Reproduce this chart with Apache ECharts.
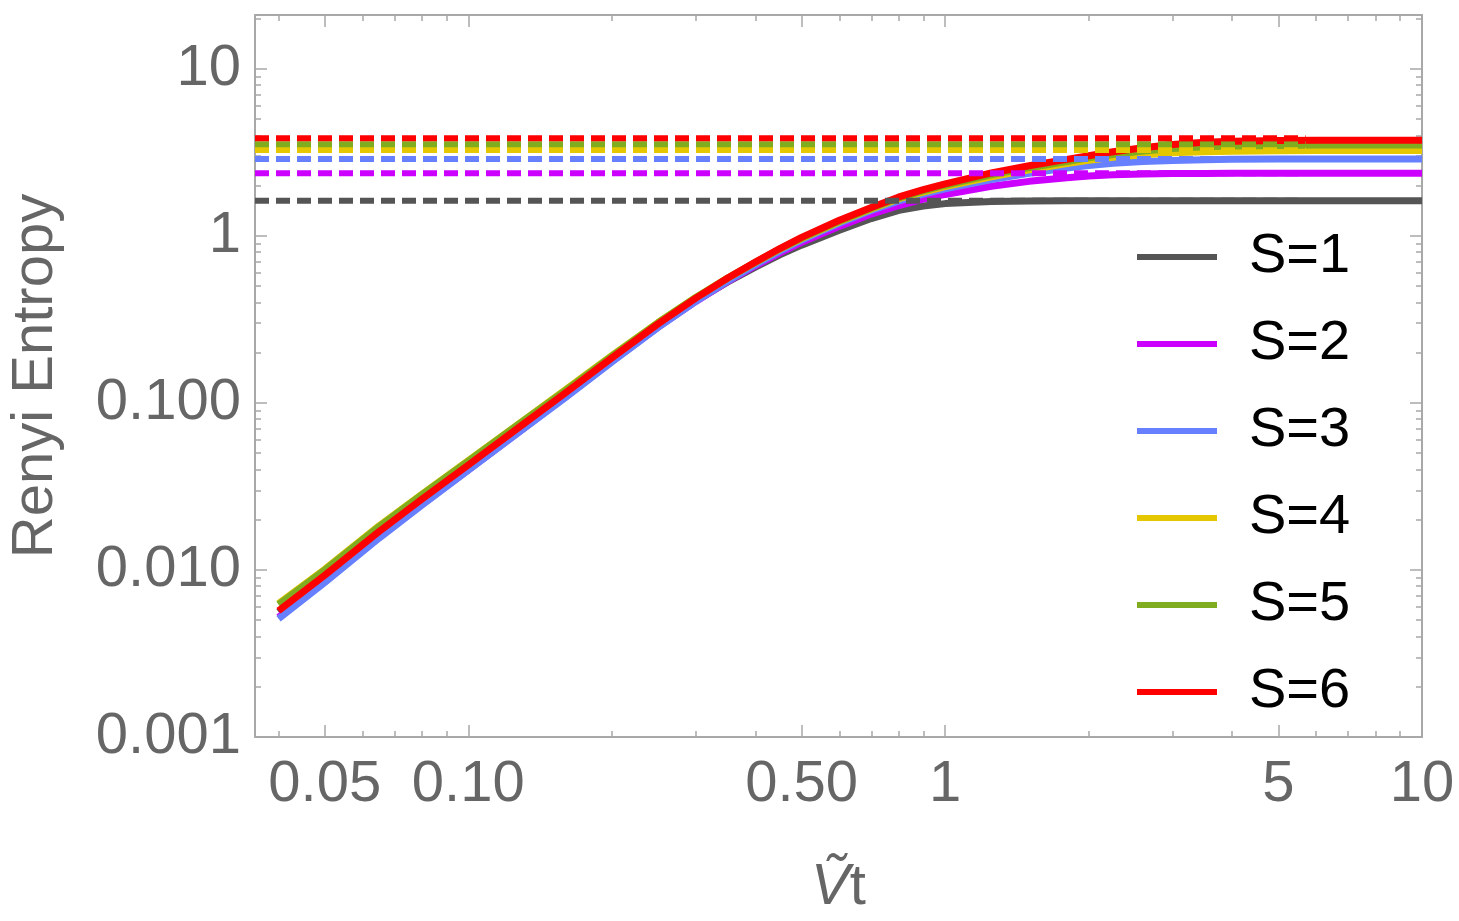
<!DOCTYPE html>
<html>
<head>
<meta charset="utf-8">
<style>
  html, body { margin: 0; padding: 0; background: #fff; }
  #main { width: 1459px; height: 921px; }
</style>
<script src="https://cdn.jsdelivr.net/npm/echarts@6.0.0/dist/echarts.min.js"></script>
</head>
<body>
<div id="main"></div>
<script>
// time axis (Ṽt) sample points shared by all curves
const times = [0.04, 0.05, 0.065, 0.08, 0.1, 0.13, 0.16, 0.2, 0.25, 0.3, 0.35, 0.4, 0.45, 0.5,
  0.6, 0.7, 0.8, 0.9, 1.0, 1.25, 1.5, 1.8, 2.0, 2.25, 2.6, 3.0, 3.5, 4, 5, 6, 7, 8.5, 10]

// Renyi entropy, one array per S
const entS1 = [0.0056, 0.0091, 0.0167, 0.0261, 0.0417, 0.0727, 0.113, 0.182, 0.289, 0.409, 0.530, 0.650, 0.77, 0.88,
  1.08, 1.27, 1.42, 1.51, 1.56, 1.605, 1.615, 1.62, 1.62, 1.62, 1.62, 1.62, 1.62, 1.62, 1.62, 1.62, 1.62, 1.62, 1.62]
const entS2 = [0.0052, 0.0085, 0.0157, 0.0247, 0.0397, 0.0697, 0.109, 0.177, 0.284, 0.405, 0.533, 0.662, 0.79, 0.915,
  1.14, 1.35, 1.52, 1.66, 1.77, 1.98, 2.12, 2.23, 2.28, 2.32, 2.345, 2.36, 2.365, 2.37, 2.37, 2.37, 2.37, 2.37, 2.37]
const entS3 = [0.0051, 0.0084, 0.0155, 0.0245, 0.0395, 0.0694, 0.108, 0.176, 0.283, 0.406, 0.537, 0.671, 0.810, 0.943,
  1.19, 1.42, 1.62, 1.78, 1.91, 2.17, 2.37, 2.55, 2.64, 2.72, 2.79, 2.83, 2.86, 2.875, 2.885, 2.89, 2.89, 2.89, 2.89]
const entS4 = [0.0063, 0.0101, 0.0184, 0.0285, 0.0451, 0.0778, 0.120, 0.192, 0.303, 0.428, 0.559, 0.693, 0.832, 0.964,
  1.215, 1.45, 1.67, 1.83, 1.97, 2.26, 2.49, 2.71, 2.83, 2.95, 3.06, 3.14, 3.19, 3.21, 3.235, 3.24, 3.24, 3.24, 3.24]
const entS5 = [0.0062, 0.0100, 0.0182, 0.0283, 0.0448, 0.0775, 0.119, 0.191, 0.302, 0.428, 0.559, 0.695, 0.835, 0.970,
  1.225, 1.465, 1.69, 1.86, 2.01, 2.32, 2.56, 2.79, 2.93, 3.07, 3.22, 3.33, 3.41, 3.45, 3.48, 3.495, 3.50, 3.50, 3.50]
const entS6 = [0.0057, 0.0093, 0.0170, 0.0266, 0.0425, 0.0741, 0.115, 0.186, 0.297, 0.424, 0.559, 0.697, 0.84, 0.979,
  1.24, 1.48, 1.71, 1.89, 2.05, 2.38, 2.63, 2.87, 3.02, 3.19, 3.37, 3.52, 3.63, 3.68, 3.72, 3.735, 3.74, 3.74, 3.74]

// dashed saturation levels and where the dashes stop
const plateaus = [1.62, 2.37, 2.89, 3.27, 3.54, 3.84]
const dashEnd = 5.7

const names = ['S=1', 'S=2', 'S=3', 'S=4', 'S=5', 'S=6']
const colors = ['#555555', '#cc00ff', '#6680ff', '#e5c700', '#7fad1f', '#ff0000']
const entropies = [entS1, entS2, entS3, entS4, entS5, entS6]

// axis ranges and ticks
const xMin = 0.0357
const xMax = 10
const yMin = 0.001
const yMax = 21
const xMajor = [0.05, 0.1, 0.5, 1, 5, 10]
const xMajorLabels = ['0.05', '0.10', '0.50', '1', '5', '10']
const xMinor = [0.04, 0.06, 0.07, 0.08, 0.09, 0.2, 0.3, 0.4, 0.6, 0.7, 0.8, 0.9, 2, 3, 4, 6, 7, 8, 9]
const yMajor = [0.001, 0.01, 0.1, 1, 10]
const yMajorLabels = ['0.001', '0.010', '0.100', '1', '10']
const yMinor = [0.002, 0.003, 0.004, 0.005, 0.006, 0.007, 0.008, 0.009,
  0.02, 0.03, 0.04, 0.05, 0.06, 0.07, 0.08, 0.09,
  0.2, 0.3, 0.4, 0.5, 0.6, 0.7, 0.8, 0.9,
  2, 3, 4, 5, 6, 7, 8, 9, 20]

const frameColor = '#a8a8a8'
const labelColor = '#666666'
const font = '"Liberation Sans", Arial, sans-serif'

function lookupLabel(values, labels) {
  return (v) => {
    for (let i = 0; i < values.length; i++) {
      if (Math.abs(Math.log10(v) - Math.log10(values[i])) < 1e-6) return labels[i]
    }
    return ''
  }
}

function frameAxis(position, min, max, ticks, len, showLine, extra) {
  return Object.assign({
    type: 'log',
    position: position,
    min: min,
    max: max,
    axisLine: { show: showLine, onZero: false, lineStyle: { color: frameColor, width: 2 } },
    axisTick: { show: true, inside: true, length: len, customValues: ticks, lineStyle: { color: frameColor, width: 1.5 } },
    axisLabel: { show: false },
    splitLine: { show: false },
    minorTick: { show: false },
    silent: true
  }, extra || {})
}

const xAxes = [
  frameAxis('bottom', xMin, xMax, xMajor, 12, true, {
    name: '{v|Ṽ}t',
    nameLocation: 'middle',
    nameGap: 122,
    nameTextStyle: {
      fontSize: 58, color: labelColor, fontFamily: font,
      rich: { v: { fontSize: 58, color: labelColor, fontStyle: 'italic', fontFamily: font } }
    },
    axisLabel: {
      show: true, customValues: xMajor, formatter: lookupLabel(xMajor, xMajorLabels),
      fontSize: 58, color: labelColor, fontFamily: font, margin: 19
    }
  }),
  frameAxis('bottom', xMin, xMax, xMinor, 6, false),
  frameAxis('top', xMin, xMax, xMajor, 12, true),
  frameAxis('top', xMin, xMax, xMinor, 6, false)
]

const yAxes = [
  frameAxis('left', yMin, yMax, yMajor, 12, true, {
    name: 'Renyi Entropy',
    nameLocation: 'middle',
    nameRotate: 90,
    nameGap: 190,
    nameTextStyle: { fontSize: 58, color: labelColor, fontFamily: font },
    axisLabel: {
      show: true, customValues: yMajor, formatter: lookupLabel(yMajor, yMajorLabels),
      fontSize: 58, color: labelColor, fontFamily: font, margin: 14
    }
  }),
  frameAxis('left', yMin, yMax, yMinor, 6, false),
  frameAxis('right', yMin, yMax, yMajor, 12, true),
  frameAxis('right', yMin, yMax, yMinor, 6, false)
]

const series = []
entropies.forEach((vals, i) => {
  series.push({
    name: names[i],
    type: 'line',
    xAxisIndex: 0,
    yAxisIndex: 0,
    data: times.map((t, k) => [t, vals[k]]),
    color: colors[i],
    showSymbol: false,
    symbol: 'none',
    smooth: false,
    lineStyle: { width: 7, color: colors[i], join: 'round' },
    z: 2
  })
})
plateaus.forEach((p, i) => {
  series.push({
    name: names[i] + ' limit',
    type: 'line',
    xAxisIndex: 0,
    yAxisIndex: 0,
    data: [[xMin, p], [dashEnd, p]],
    color: colors[i],
    symbol: 'none',
    silent: true,
    lineStyle: { width: 6, color: colors[i], type: [14, 7] },
    z: 3
  })
})

const chart = echarts.init(document.getElementById('main'))
chart.setOption({
  animation: false,
  backgroundColor: '#ffffff',
  grid: { left: 255, right: 37, top: 15, bottom: 184, outerBoundsMode: 'none' },
  legend: {
    data: names,
    orient: 'vertical',
    left: 1132,
    top: 222,
    icon: 'rect',
    itemWidth: 80,
    itemHeight: 6,
    itemGap: 27,
    textStyle: { fontSize: 56, color: '#000', fontFamily: font, lineHeight: 60, padding: [0, 0, 0, 27] }
  },
  xAxis: xAxes,
  yAxis: yAxes,
  series: series
})
</script>
</body>
</html>
